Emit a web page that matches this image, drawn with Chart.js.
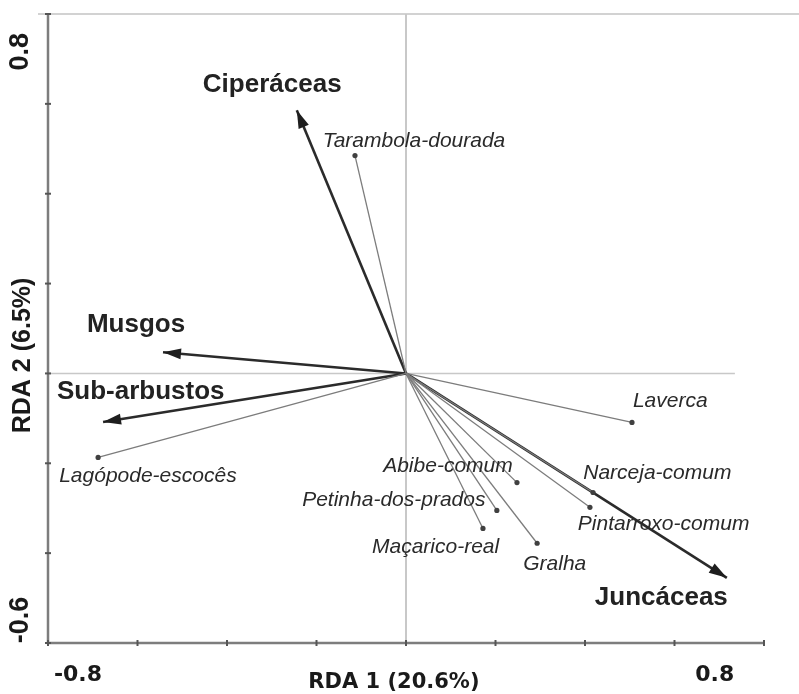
<!DOCTYPE html>
<html>
<head>
<meta charset="utf-8">
<title>RDA biplot</title>
<script src="https://cdn.jsdelivr.net/npm/chart.js@4.4.1/dist/chart.umd.min.js"></script>
<style>
    body { margin: 0; background: #fff; }
    canvas { display: block; }
</style>
</head>
<body>
<canvas id="rdaChart" width="799" height="694"></canvas>
<script>
// environmental variables (arrows)
const envNames = ['Ciperáceas', 'Musgos', 'Sub-arbustos', 'Juncáceas'];
const envX = [-0.244, -0.543, -0.677, 0.717];
const envY = [0.586, 0.047, -0.108, -0.455];

// species (thin lines)
const spNames = ['Tarambola-dourada', 'Lagópode-escocês', 'Laverca', 'Abibe-comum', 'Petinha-dos-prados',
    'Maçarico-real', 'Gralha', 'Narceja-comum', 'Pintarroxo-comum'];
const spX = [-0.114, -0.688, 0.505, 0.248, 0.203, 0.172, 0.293, 0.418, 0.411];
const spY = [0.485, -0.187, -0.109, -0.243, -0.305, -0.345, -0.378, -0.265, -0.298];

// axis ticks
const xTicks = [-0.8, -0.6, -0.4, -0.2, 0, 0.2, 0.4, 0.6, 0.8];
const yTicks = [-0.6, -0.4, -0.2, 0, 0.2, 0.4, 0.6, 0.8];
const xTickLabels = ['-0.8', '0.8'];
const yTickLabels = ['-0.6', '0.8'];

// where the labels sit (left edge / baseline, in data units)
const envLabelPos = [[-0.454, 0.626], [-0.713, 0.092], [-0.780, -0.057], [0.422, -0.515]];
const spLabelPos = [[-0.186, 0.504], [-0.775, -0.242], [0.507, -0.075], [-0.051, -0.220], [-0.232, -0.295],
    [-0.076, -0.400], [0.262, -0.438], [0.396, -0.235], [0.384, -0.349]];

let datasets = [];
spNames.forEach((name, i) => {
    datasets.push({
        label: name,
        data: [{ x: 0, y: 0 }, { x: spX[i], y: spY[i] }],
        showLine: true,
        borderColor: '#7c7c7c',
        borderWidth: 1.3,
        pointRadius: [0, 2.6],
        pointBackgroundColor: '#404040',
        pointBorderWidth: 0
    });
});
envNames.forEach((name, i) => {
    datasets.push({
        label: name,
        data: [{ x: 0, y: 0 }, { x: envX[i], y: envY[i] }],
        showLine: true,
        borderColor: '#2b2b2b',
        borderWidth: 2.6,
        pointRadius: 0,
        isEnv: true
    });
});

const biplotPlugin = {
    id: 'biplot',
    beforeDatasetsDraw(chart) {
        const ctx = chart.ctx;
        const xs = chart.scales.x, ys = chart.scales.y;
        const x0 = xs.getPixelForValue(0), y0 = ys.getPixelForValue(0);
        const left = chart.chartArea.left, right = chart.chartArea.right;
        const top = chart.chartArea.top, bottom = chart.chartArea.bottom;
        ctx.save();
        // top frame line
        ctx.strokeStyle = '#d2d2d2';
        ctx.lineWidth = 2;
        ctx.beginPath();
        ctx.moveTo(left - 10, top);
        ctx.lineTo(chart.width, top);
        ctx.stroke();
        // zero lines
        ctx.strokeStyle = '#c8c8c8';
        ctx.beginPath();
        ctx.moveTo(x0, top);
        ctx.lineTo(x0, bottom);
        ctx.stroke();
        ctx.lineWidth = 1.5;
        ctx.beginPath();
        ctx.moveTo(left, y0);
        ctx.lineTo(xs.getPixelForValue(0.735), y0);
        ctx.stroke();
        // axes
        ctx.strokeStyle = '#7d7d7d';
        ctx.lineWidth = 2.5;
        ctx.beginPath();
        ctx.moveTo(left, top);
        ctx.lineTo(left, bottom);
        ctx.lineTo(right, bottom);
        ctx.stroke();
        ctx.strokeStyle = '#555';
        ctx.lineWidth = 2;
        xTicks.forEach(v => {
            const px = xs.getPixelForValue(v);
            ctx.beginPath();
            ctx.moveTo(px, bottom - 3);
            ctx.lineTo(px, bottom + 3);
            ctx.stroke();
        });
        yTicks.forEach(v => {
            const py = ys.getPixelForValue(v);
            ctx.beginPath();
            ctx.moveTo(left - 3, py);
            ctx.lineTo(left + 3, py);
            ctx.stroke();
        });
        ctx.restore();
    },
    afterDatasetsDraw(chart) {
        const ctx = chart.ctx;
        const xs = chart.scales.x, ys = chart.scales.y;
        ctx.save();
        // arrowheads
        chart.data.datasets.forEach((ds, i) => {
            if (!ds.isEnv) return;
            const pts = chart.getDatasetMeta(i).data;
            const ax = pts[0].x, ay = pts[0].y, bx = pts[1].x, by = pts[1].y;
            const ang = Math.atan2(by - ay, bx - ax);
            const len = 18, half = 5.5;
            ctx.fillStyle = '#1e1e1e';
            ctx.beginPath();
            ctx.moveTo(bx, by);
            ctx.lineTo(bx - len * Math.cos(ang) + half * Math.sin(ang), by - len * Math.sin(ang) - half * Math.cos(ang));
            ctx.lineTo(bx - len * Math.cos(ang) - half * Math.sin(ang), by - len * Math.sin(ang) + half * Math.cos(ang));
            ctx.closePath();
            ctx.fill();
        });

        // labels
        ctx.textAlign = 'left';
        ctx.textBaseline = 'alphabetic';
        ctx.fillStyle = '#222';
        ctx.font = 'bold 26px "Liberation Sans", Arial, sans-serif';
        envNames.forEach((name, i) => {
            ctx.fillText(name, xs.getPixelForValue(envLabelPos[i][0]), ys.getPixelForValue(envLabelPos[i][1]));
        });
        ctx.fillStyle = '#2a2a2a';
        ctx.font = 'italic 21px "Liberation Sans", Arial, sans-serif';
        spNames.forEach((name, i) => {
            ctx.fillText(name, xs.getPixelForValue(spLabelPos[i][0]), ys.getPixelForValue(spLabelPos[i][1]));
        });

        // tick labels and axis titles
        ctx.fillStyle = '#1a1a1a';
        ctx.textAlign = 'center';
        ctx.textBaseline = 'middle';
        ctx.font = 'bold 22px "DejaVu Sans", sans-serif';
        ctx.fillText(xTickLabels[0], xs.getPixelForValue(-0.733), 675);
        ctx.fillText(xTickLabels[1], xs.getPixelForValue(0.690), 675);
        ctx.font = 'bold 21px "DejaVu Sans", sans-serif';
        ctx.fillText('RDA 1 (20.6%)', xs.getPixelForValue(-0.027), 683);

        ctx.font = 'bold 27px "Liberation Sans", Arial, sans-serif';
        [[yTickLabels[0], -0.549], [yTickLabels[1], 0.716]].forEach(t => {
            ctx.save();
            ctx.translate(21, ys.getPixelForValue(t[1]));
            ctx.rotate(-Math.PI / 2);
            ctx.fillText(t[0], 0, 0);
            ctx.restore();
        });
        ctx.font = 'bold 25px "Liberation Sans", Arial, sans-serif';
        ctx.save();
        ctx.translate(23, ys.getPixelForValue(0.04));
        ctx.rotate(-Math.PI / 2);
        ctx.fillText('RDA 2 (6.5%)', 0, 0);
        ctx.restore();

        ctx.restore();
    }
};

const chart = new Chart(document.getElementById('rdaChart'), {
    type: 'scatter',
    data: { datasets: datasets },
    options: {
        responsive: false,
        animation: false,
        layout: {
            padding: { left: 48, top: 14, right: 35, bottom: 51 }
        },
        scales: {
            x: { type: 'linear', min: -0.8, max: 0.8, display: false },
            y: { type: 'linear', min: -0.6, max: 0.8, display: false }
        },
        plugins: {
            legend: { display: false },
            tooltip: { enabled: false }
        }
    },
    plugins: [biplotPlugin]
});
</script>
</body>
</html>
